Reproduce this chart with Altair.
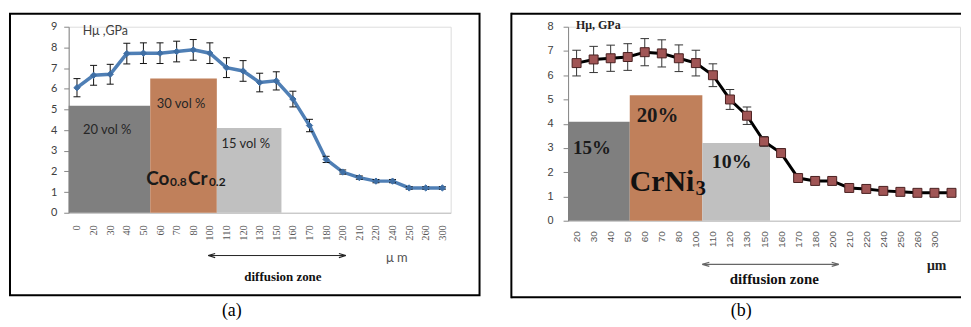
import altair as alt
import pandas as pd

# ---------------- data: panel (a) Co0.8Cr0.2 ----------------
a_labels = ["0", "20", "30", "40", "50", "60", "70", "80", "100", "110", "120", "130",
            "150", "160", "170", "180", "200", "210", "220", "240", "250", "260", "300"]
a_values = [6.05, 6.65, 6.7, 7.7, 7.72, 7.72, 7.8, 7.88, 7.72, 7.02, 6.86, 6.3,
            6.38, 5.5, 4.22, 2.58, 1.97, 1.7, 1.53, 1.53, 1.2, 1.2, 1.2]
a_errors = [0.44, 0.48, 0.48, 0.5, 0.5, 0.5, 0.5, 0.5, 0.5, 0.48, 0.5, 0.45,
            0.44, 0.38, 0.3, 0.15, 0.1, 0.08, 0.08, 0.08, 0.06, 0.06, 0.06]
a_regions = ["20 vol %", "30 vol %", "15 vol %"]
a_region_start = [-0.5, 4.41, 8.42]
a_region_end = [4.41, 8.42, 12.31]
a_region_top = [5.18, 6.5, 4.1]

# ---------------- data: panel (b) CrNi3 ----------------
b_labels = ["20", "30", "40", "50", "60", "70", "80", "100", "110", "120", "130",
            "150", "160", "170", "180", "200", "210", "220", "240", "250", "260", "300", ""]
b_values = [6.5, 6.65, 6.7, 6.75, 6.95, 6.9, 6.7, 6.5, 6.0, 5.0, 4.33,
            3.27, 2.79, 1.76, 1.64, 1.64, 1.35, 1.31, 1.23, 1.19, 1.15, 1.15, 1.15]
b_errors = [0.53, 0.54, 0.54, 0.55, 0.56, 0.56, 0.55, 0.53, 0.47, 0.41, 0.36,
            0.2, 0.17, 0.08, 0.06, 0.06, 0.05, 0.05, 0.05, 0.05, 0.05, 0.05, 0.05]
b_regions = ["15%", "20%", "10%"]
b_region_start = [-0.5, 3.12, 7.38]
b_region_end = [3.12, 7.38, 11.35]
b_region_top = [4.08, 5.17, 3.2]

REGION_COLORS_A = ["#7f7f7f", "#c0805b", "#c0c0c0"]
REGION_COLORS_B = ["#7f7f7f", "#c17b56", "#c6c6c6"]


def series_df(values, errors, cap):
    n = len(values)
    return pd.DataFrame({
        "i": list(range(n)),
        "v": values,
        "lo": [v - e for v, e in zip(values, errors)],
        "hi": [v + e for v, e in zip(values, errors)],
        "c0": [k - cap for k in range(n)],
        "c1": [k + cap for k in range(n)],
    })


def region_df(names, start, end, top):
    return pd.DataFrame({"name": names, "start": start, "end": end, "top": top,
                         "zero": [0] * len(names)})


def make_axes(labels, ymax, xfont, xfontsize, xlabelpad, yfont, ypad):
    n = len(labels)
    expr = "[" + ",".join("'%s'" % l for l in labels) + "][datum.value]"
    xs = alt.Scale(domain=[-0.5, n - 0.5], nice=False, zero=False)
    xa = alt.Axis(values=list(range(n)), labelExpr=expr, labelAngle=-90, ticks=False,
                  tickSize=0, grid=False, domainColor="#bfbfbf", labelFont=xfont,
                  labelFontSize=xfontsize, labelColor="#555555", labelPadding=xlabelpad,
                  title=None, labelOverlap=False)
    ys = alt.Scale(domain=[0, ymax], nice=False, zero=True)
    ya = alt.Axis(values=list(range(ymax + 1)), grid=False, domainColor="#868686",
                  tickColor="#868686", tickSize=5, labelFont=yfont, labelFontSize=11,
                  labelColor="#404040", labelPadding=ypad, title=None)
    return xs, xa, ys, ya


def make_panel(ax, values, errors, regions, rstart, rend, rtop, colors,
               line_color, line_width, point_shape, point_size, point_fill,
               point_stroke, cap, err_color):
    xs, xa, ys, ya = ax
    sdf = series_df(values, errors, cap)
    rdf = region_df(regions, rstart, rend, rtop)

    X = lambda f: alt.X(f, scale=xs, axis=xa)
    Y = lambda f: alt.Y(f, scale=ys, axis=ya)

    bars = alt.Chart(rdf).mark_rect().encode(
        x=X("start:Q"), x2="end:Q", y=Y("zero:Q"), y2="top:Q",
        color=alt.Color("name:N", scale=alt.Scale(domain=regions, range=colors), legend=None),
    )
    base = alt.Chart(sdf)
    line = base.mark_line(color=line_color, strokeWidth=line_width).encode(
        x=X("i:Q"), y=Y("v:Q"))
    err = base.mark_rule(color=err_color, strokeWidth=1).encode(
        x=X("i:Q"), y=Y("lo:Q"), y2="hi:Q")
    cap_lo = base.mark_rule(color=err_color, strokeWidth=1).encode(
        x=X("c0:Q"), x2="c1:Q", y=Y("lo:Q"))
    cap_hi = base.mark_rule(color=err_color, strokeWidth=1).encode(
        x=X("c0:Q"), x2="c1:Q", y=Y("hi:Q"))
    pts = base.mark_point(shape=point_shape, size=point_size, filled=True, fill=point_fill,
                          stroke=point_stroke, strokeWidth=1, opacity=1).encode(
        x=X("i:Q"), y=Y("v:Q"))
    return [bars, line, err, cap_lo, cap_hi, pts]


def text_layer(ax, x, y, txt, **kw):
    xs, xa, ys, ya = ax
    df = pd.DataFrame({"x": [x], "y": [y], "t": [txt]})
    return alt.Chart(df).mark_text(**kw).encode(
        x=alt.X("x:Q", scale=xs, axis=xa), y=alt.Y("y:Q", scale=ys, axis=ya), text="t:N")


def arrow_layers(ax, x0, x1, y, color, width):
    xs, xa, ys, ya = ax
    df = pd.DataFrame({"x0": [x0], "x1": [x1], "y": [y]})
    shaft = alt.Chart(df).mark_rule(color=color, strokeWidth=width).encode(
        x=alt.X("x0:Q", scale=xs, axis=xa), x2="x1:Q", y=alt.Y("y:Q", scale=ys, axis=ya))
    left = alt.Chart(df).mark_point(shape="M0,0L2,-0.6M0,0L2,0.6", size=49, filled=False,
                                    stroke=color, strokeWidth=1.2, opacity=1).encode(
        x=alt.X("x0:Q", scale=xs, axis=xa), y=alt.Y("y:Q", scale=ys, axis=ya))
    right = alt.Chart(df).mark_point(shape="M0,0L-2,-0.6M0,0L-2,0.6", size=49, filled=False,
                                     stroke=color, strokeWidth=1.2, opacity=1).encode(
        x=alt.X("x1:Q", scale=xs, axis=xa), y=alt.Y("y:Q", scale=ys, axis=ya))
    return [shaft, left, right]


one = alt.Data(values=[{"k": 1}])

# ---------------- panel (a) ----------------
WA, HA = 384, 187
axA = make_axes(a_labels, 9, "Liberation Serif", 10.5, 12, "Lato", 7)
la = make_panel(axA, a_values, a_errors, a_regions, a_region_start, a_region_end,
                a_region_top, REGION_COLORS_A, "#4f7fb5", 3.5, "diamond", 40,
                "#3f6fa5", "#3f6fa5", 0.21, "#111111")
SANS = "Lato"
ann_a = [
    text_layer(axA, 0.34, 8.81, "Hμ ,GPa", font=SANS, fontSize=12.5, color="#404040",
               align="left", baseline="middle"),
    text_layer(axA, 1.82, 3.98, "20 vol %", font=SANS, fontSize=13, color="#262626",
               align="center", baseline="middle"),
    text_layer(axA, 6.27, 5.26, "30 vol %", font=SANS, fontSize=13, color="#262626",
               align="center", baseline="middle"),
    text_layer(axA, 10.16, 3.33, "15 vol %", font=SANS, fontSize=13, color="#262626",
               align="center", baseline="middle"),
    text_layer(axA, 4.17, 1.35, "Co", font=SANS, fontSize=19, fontWeight="bold",
               color="#1a1a1a", align="left", baseline="alphabetic"),
    text_layer(axA, 4.17, 1.35, "0.8", font=SANS, fontSize=12, fontWeight="bold",
               color="#1a1a1a", align="left", baseline="alphabetic", dx=24, dy=1),
    text_layer(axA, 4.17, 1.35, "Cr", font=SANS, fontSize=19, fontWeight="bold",
               color="#1a1a1a", align="left", baseline="alphabetic", dx=42),
    text_layer(axA, 4.17, 1.35, "0.2", font=SANS, fontSize=12, fontWeight="bold",
               color="#1a1a1a", align="left", baseline="alphabetic", dx=63, dy=1),
    text_layer(axA, 12.4, -3.32, "diffusion zone", font="Liberation Serif", fontSize=13,
               fontWeight="bold", color="#111111", align="center", baseline="alphabetic"),
    text_layer(axA, 19.26, -2.4, "μ m", font=SANS, fontSize=13, color="#555555",
               align="center", baseline="alphabetic"),
] + arrow_layers(axA, 7.9, 16.19, -2.07, "#222222", 1)

frame_a = [
    alt.Chart(one).mark_rect(fillOpacity=0, stroke="black", strokeWidth=2).encode(
        x=alt.value(-59), x2=alt.value(413), y=alt.value(-13), y2=alt.value(270)),
    alt.Chart(one).mark_text(font="Liberation Serif", fontSize=18, color="black",
                             baseline="middle").encode(
        x=alt.value(164), y=alt.value(286), text=alt.value("(a)")),
]
panel_a = alt.layer(*la, *ann_a, *frame_a).properties(width=WA, height=HA)

# ---------------- panel (b) ----------------
WB, HB = 394, 195
axB = make_axes(b_labels, 8, "Liberation Sans", 10, 10, "Liberation Sans", 10)
lb = make_panel(axB, b_values, b_errors, b_regions, b_region_start, b_region_end,
                b_region_top, REGION_COLORS_B, "#000000", 3, "square", 81,
                "#a05555", "#4a2020", 0.25, "#333333")
SERIF = "Liberation Serif"
ann_b = [
    text_layer(axB, -0.03, 7.92, "Hμ, GPa", font=SERIF, fontSize=12, fontWeight="bold",
               color="#222222", align="left", baseline="alphabetic"),
    text_layer(axB, 0.9, 2.75, "15%", font=SERIF, fontSize=19, fontWeight="bold",
               color="#1a1a1a", align="center", baseline="alphabetic"),
    text_layer(axB, 4.75, 4.06, "20%", font=SERIF, fontSize=21, fontWeight="bold",
               color="#1a1a1a", align="center", baseline="alphabetic"),
    text_layer(axB, 9.1, 2.17, "10%", font=SERIF, fontSize=20, fontWeight="bold",
               color="#1a1a1a", align="center", baseline="alphabetic"),
    text_layer(axB, 3.12, 1.23, "CrNi", font=SERIF, fontSize=30, fontWeight="bold",
               color="#111111", align="left", baseline="alphabetic"),
    text_layer(axB, 3.12, 1.23, "3", font=SERIF, fontSize=21, fontWeight="bold",
               color="#111111", align="left", baseline="alphabetic", dx=66, dy=4),
    text_layer(axB, 11.6, -2.63, "diffusion zone", font=SERIF, fontSize=15,
               fontWeight="bold", color="#111111", align="center", baseline="alphabetic"),
    text_layer(axB, 21.13, -2.05, "μm", font=SERIF, fontSize=14, fontWeight="bold",
               color="#222222", align="center", baseline="alphabetic"),
] + arrow_layers(axB, 7.38, 15.38, -1.8, "#666666", 1.2)

frame_b = [
    alt.Chart(one).mark_rule(stroke="black", strokeWidth=2).encode(
        x=alt.value(-57), x2=alt.value(395), y=alt.value(-13)),
    alt.Chart(one).mark_rule(stroke="black", strokeWidth=2).encode(
        x=alt.value(-57), x2=alt.value(395), y=alt.value(272)),
    alt.Chart(one).mark_rule(stroke="black", strokeWidth=2).encode(
        x=alt.value(-57), y=alt.value(-14), y2=alt.value(273)),
    alt.Chart(one).mark_text(font="Liberation Serif", fontSize=18, color="black",
                             baseline="middle").encode(
        x=alt.value(174), y=alt.value(286), text=alt.value("(b)")),
]
panel_b = alt.layer(*lb, *ann_b, *frame_b).properties(width=WB, height=HB)

chart = alt.hconcat(panel_a, panel_b, spacing=28).properties(
    padding={"left": 0, "top": 2, "right": 0, "bottom": 0}
).configure_view(strokeWidth=0).configure(background="white")

chart.save("out.html", embed_options={"renderer": "svg", "actions": False})
